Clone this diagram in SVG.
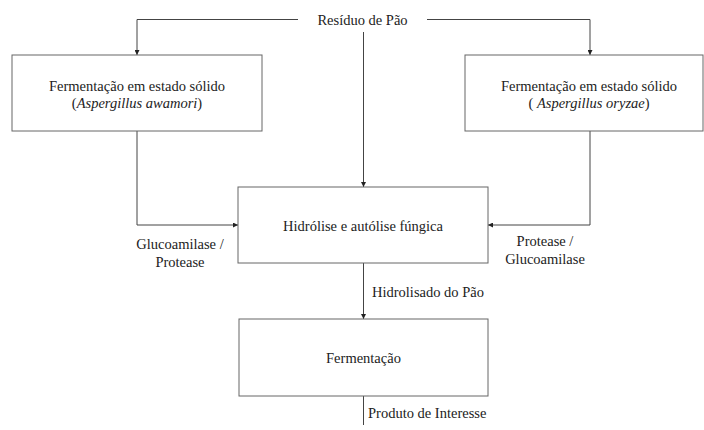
<svg xmlns="http://www.w3.org/2000/svg" width="704" height="430" viewBox="0 0 704 430">
<style>
.box{fill:#fff;stroke:#666;stroke-width:1}
.ln{fill:none;stroke:#444;stroke-width:1}
.t{font-size:14.5px;fill:#222}
.c{text-anchor:middle}
</style>
<defs>
<marker id="ah" viewBox="0 0 8 8" refX="8" refY="4" markerWidth="5" markerHeight="5" orient="auto" markerUnits="userSpaceOnUse">
<path d="M0,0 L8,4 L0,8 z" fill="#222"/>
</marker>
</defs>
<rect width="704" height="430" fill="#fff"/>
<g id="connectors">
<path class="ln" d="M298,19.5 H137 V55" marker-end="url(#ah)"/>
<path class="ln" d="M427,19.5 H590 V55" marker-end="url(#ah)"/>
<path class="ln" d="M363.5,32 V187" marker-end="url(#ah)"/>
<path class="ln" d="M137,131 V225 H238" marker-end="url(#ah)"/>
<path class="ln" d="M590,131 V225 H488" marker-end="url(#ah)"/>
<path class="ln" d="M363.5,263 V319" marker-end="url(#ah)"/>
<path class="ln" d="M363.5,396 V425"/>
<g font-family="Liberation Serif, DejaVu Serif, serif">
<text class="t c" x="180" y="249">Glucoamilase /</text>
<text class="t c" x="180" y="267">Protease</text>
<text class="t c" x="545" y="246">Protease /</text>
<text class="t c" x="545" y="264">Glucoamilase</text>
<text class="t" x="372" y="297">Hidrolisado do Pão</text>
<text class="t" x="368" y="418">Produto de Interesse</text>
</g>
</g>
<g id="residuo" font-family="Liberation Serif, DejaVu Serif, serif">
<text class="t c" x="362.5" y="25">Resíduo de Pão</text>
</g>
<g id="fes-awamori" font-family="Liberation Serif, DejaVu Serif, serif">
<rect class="box" x="12" y="55" width="250" height="76"/>
<text class="t c" x="137" y="91">Fermentação em estado sólido</text>
<text class="t c" x="137" y="108">(<tspan font-style="italic">Aspergillus awamori</tspan>)</text>
</g>
<g id="fes-oryzae" font-family="Liberation Serif, DejaVu Serif, serif">
<rect class="box" x="465" y="55" width="238" height="76"/>
<text class="t c" x="589" y="91">Fermentação em estado sólido</text>
<text class="t c" x="589" y="108">( <tspan font-style="italic">Aspergillus oryzae</tspan>)</text>
</g>
<g id="hidrolise" font-family="Liberation Serif, DejaVu Serif, serif">
<rect class="box" x="238" y="187" width="250" height="76"/>
<text class="t c" x="363" y="231">Hidrólise e autólise fúngica</text>
</g>
<g id="fermentacao" font-family="Liberation Serif, DejaVu Serif, serif">
<rect class="box" x="239" y="319" width="249" height="77"/>
<text class="t c" x="363.5" y="363">Fermentação</text>
</g>
</svg>
